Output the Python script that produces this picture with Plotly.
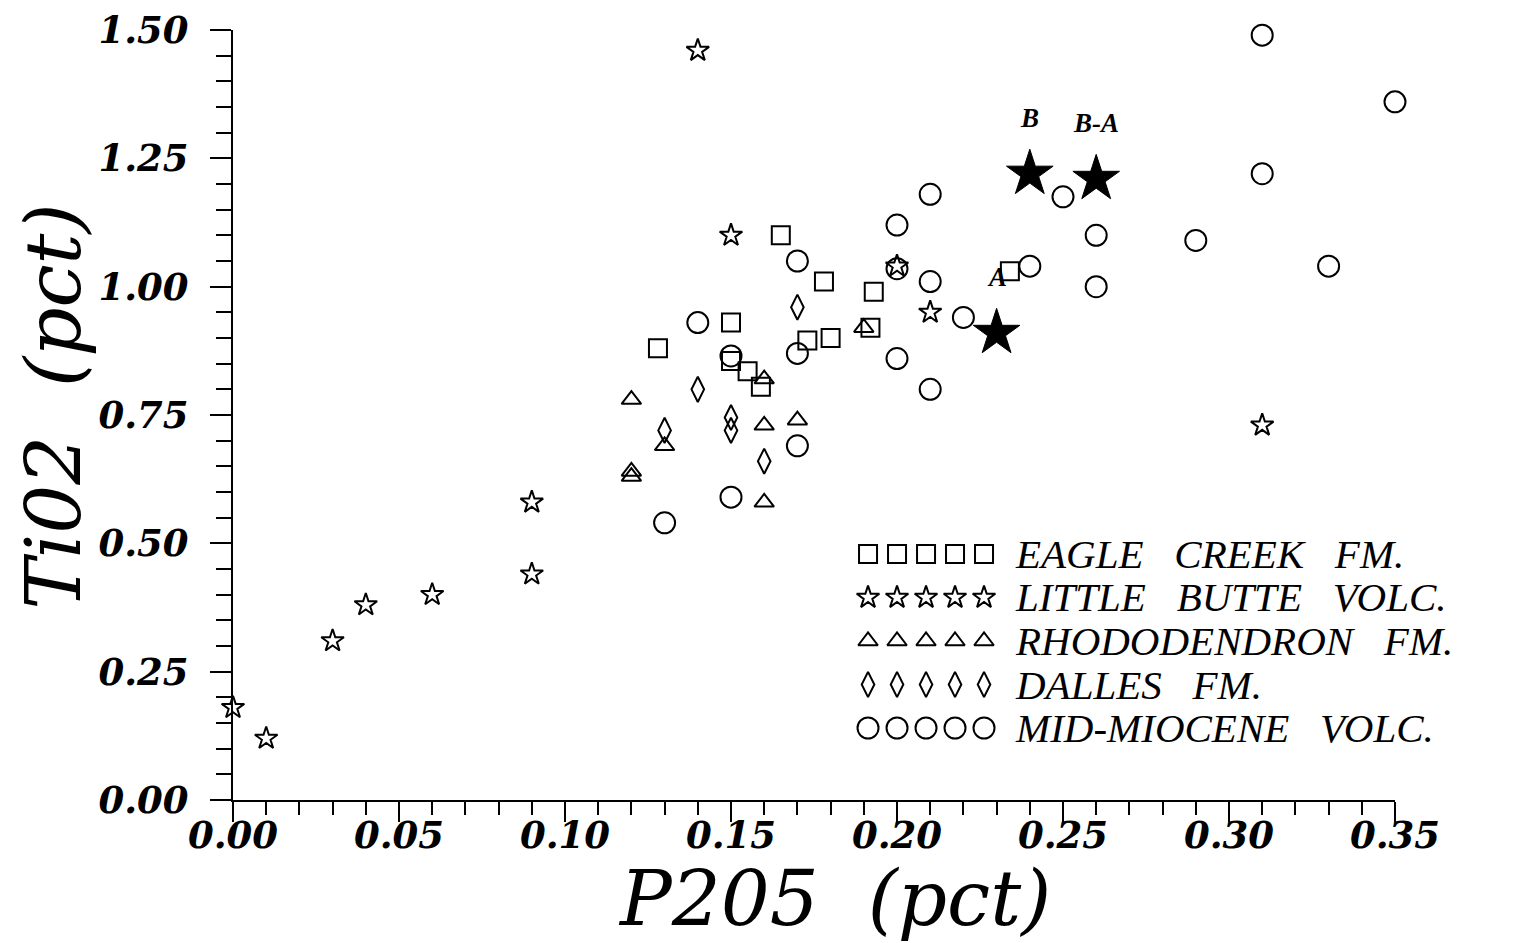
import plotly.graph_objects as go

# ---------------- data (P2O5 pct, TiO2 pct) ----------------
eagle_x = [0.128, 0.150, 0.165, 0.178, 0.193, 0.173, 0.180, 0.192, 0.155, 0.159, 0.234, 0.150]
eagle_y = [0.88, 0.93, 1.10, 1.01, 0.99, 0.895, 0.90, 0.92, 0.835, 0.805, 1.03, 0.855]

butte_x = [0.00, 0.01, 0.03, 0.04, 0.06, 0.09, 0.09, 0.14, 0.15, 0.20, 0.21, 0.31]
butte_y = [0.18, 0.12, 0.31, 0.38, 0.40, 0.58, 0.44, 1.46, 1.10, 1.04, 0.95, 0.73]

rhodo_x = [0.12, 0.12, 0.12, 0.13, 0.16, 0.16, 0.16, 0.17, 0.19]
rhodo_y = [0.78, 0.63, 0.64, 0.69, 0.82, 0.73, 0.58, 0.74, 0.92]

dalles_x = [0.17, 0.14, 0.13, 0.15, 0.15, 0.16]
dalles_y = [0.96, 0.80, 0.72, 0.745, 0.72, 0.66]

miocene_x = [0.14, 0.15, 0.17, 0.17, 0.17, 0.15, 0.13, 0.20, 0.20, 0.20, 0.21, 0.21,
             0.21, 0.22, 0.24, 0.25, 0.26, 0.26, 0.29, 0.31, 0.31, 0.33, 0.35]
miocene_y = [0.93, 0.865, 1.05, 0.87, 0.69, 0.59, 0.54, 1.12, 1.035, 0.86, 1.18, 1.01,
             0.80, 0.94, 1.04, 1.175, 1.10, 1.00, 1.09, 1.49, 1.22, 1.04, 1.36]

special_x = [0.24, 0.26, 0.23]
special_y = [1.22, 1.21, 0.91]
special_labels = ["B", "B-A", "A"]

legend_names = ["EAGLE   CREEK   FM.", "LITTLE   BUTTE   VOLC.", "RHODODENDRON   FM.",
                "DALLES   FM.", "MID-MIOCENE   VOLC."]

x_title = "P205  (pct)"
y_title = "Ti02  (pct)"

x_ticks = [0.00, 0.05, 0.10, 0.15, 0.20, 0.25, 0.30, 0.35]
y_ticks = [0.00, 0.25, 0.50, 0.75, 1.00, 1.25, 1.50]

# ---------------- styles ----------------
SERIF = "Liberation Serif"
TICKSERIF = "DejaVu Serif"
series = [
    (eagle_x, eagle_y, "square-open", 18),
    (butte_x, butte_y, "star-open", 17),
    (rhodo_x, rhodo_y, "triangle-up-open", 17),
    (dalles_x, dalles_y, "diamond-tall-open", 18),
    (miocene_x, miocene_y, "circle-open", 21),
]

fig = go.Figure()
for xs, ys, sym, sz in series:
    fig.add_trace(go.Scatter(
        x=xs, y=ys, mode="markers", cliponaxis=False,
        marker=dict(symbol=sym, size=sz, color="black", line=dict(width=2, color="black")),
    ))

fig.add_trace(go.Scatter(
    x=special_x, y=special_y, mode="markers", cliponaxis=False,
    marker=dict(symbol="star", size=35, color="black", line=dict(width=1, color="black")),
))

annotations = []
for xv, yv, lab in zip(special_x, special_y, special_labels):
    annotations.append(dict(
        x=xv, y=yv, xref="x", yref="y", text=lab, showarrow=False, yshift=56,
        font=dict(family=SERIF, size=27, color="black", style="italic", weight="bold"),
    ))

# legend drawn on a hidden overlay axis pair
for i, (_, _, sym, sz) in enumerate(series):
    fig.add_trace(go.Scatter(
        x=list(range(5)), y=[i] * 5, mode="markers", cliponaxis=False,
        xaxis="x2", yaxis="y2",
        marker=dict(symbol=sym, size=sz, color="black", line=dict(width=2, color="black")),
    ))
    annotations.append(dict(
        x=5.0, y=i, xref="x2", yref="y2", xanchor="left", yanchor="middle",
        text=legend_names[i].replace(" ", "\u00a0"), showarrow=False,
        font=dict(family=SERIF, size=41, color="black", style="italic"),
    ))

tickfont = dict(family=TICKSERIF, size=37, color="black", style="italic", weight="bold")
titlefont = dict(family=TICKSERIF, size=77, color="black", style="italic")

# axis titles as paper-anchored annotations
annotations.append(dict(
    x=0.518, y=0, xref="paper", yref="paper", xanchor="center", yanchor="top",
    yshift=-52, text=x_title.replace(" ", "\u00a0"), showarrow=False, font=titlefont,
))
annotations.append(dict(
    x=0, y=0.51, xref="paper", yref="paper", xanchor="right", yanchor="middle",
    xshift=-133, textangle=-90, text=y_title.replace(" ", "\u00a0"), showarrow=False,
    font=titlefont,
))

fig.update_layout(
    width=1526, height=943,
    margin=dict(l=233, r=131, t=30, b=143),
    paper_bgcolor="white", plot_bgcolor="white",
    showlegend=False,
    template="none",
    annotations=annotations,
    xaxis=dict(
        range=[0, 0.35], tickvals=x_ticks, ticktext=[f"{v:.2f}" for v in x_ticks],
        ticks="outside", ticklen=20, tickwidth=2, tickcolor="black",
        showline=True, linewidth=2, linecolor="black",
        showgrid=False, zeroline=False, automargin=False,
        minor=dict(dtick=0.01, tick0=0, ticks="outside", ticklen=13, tickwidth=2,
                   tickcolor="black", showgrid=False),
        tickfont=tickfont, ticklabelstandoff=-18, ticklabeloverflow="allow",
    ),
    yaxis=dict(
        range=[0, 1.5], tickvals=y_ticks, ticktext=[f"{v:.2f}" for v in y_ticks],
        ticks="outside", ticklen=21, tickwidth=2, tickcolor="black",
        showline=True, linewidth=2, linecolor="black",
        showgrid=False, zeroline=False, automargin=False,
        minor=dict(dtick=0.05, tick0=0, ticks="outside", ticklen=15, tickwidth=2,
                   tickcolor="black", showgrid=False),
        tickfont=tickfont, ticklabelstandoff=14, ticklabeloverflow="allow",
    ),
    xaxis2=dict(domain=[0.5465, 1.0], range=[0, 527 / 29.0], anchor="y2", visible=False,
                fixedrange=True),
    yaxis2=dict(domain=[0.0935, 0.3195], range=[4, 0], anchor="x2", visible=False,
                fixedrange=True),
)

fig.write_html("out.html", config={"displayModeBar": False},
               post_script="document.body.style.margin='0';document.body.style.overflow='hidden';")
